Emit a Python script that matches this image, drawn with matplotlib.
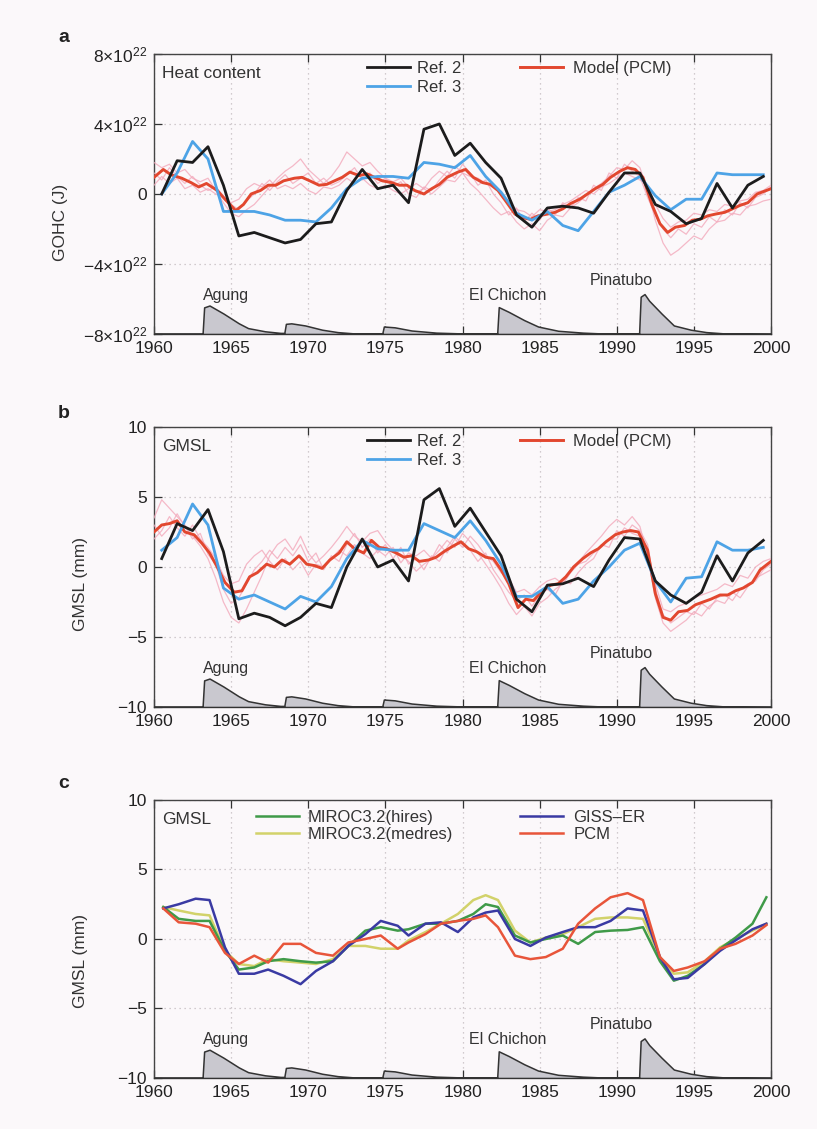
import numpy as np
import matplotlib
matplotlib.use("Agg")
import matplotlib.pyplot as plt
from matplotlib.lines import Line2D
from matplotlib.legend_handler import HandlerTuple
from matplotlib.ticker import FixedLocator, FuncFormatter

plt.rcParams['font.family'] = ['Liberation Sans', 'DejaVu Sans']
plt.rcParams['mathtext.fontset'] = 'custom'
plt.rcParams['mathtext.rm'] = 'Liberation Sans'

# ---------------- data ----------------
# observations (annual)
obs_years = np.arange(1960.5, 2000.0, 1.0)
a_ref2 = [0.0, 1.9, 1.8, 2.7, 0.5, -2.4, -2.2, -2.5, -2.8, -2.6, -1.7, -1.6, 0.2, 1.4, 0.3, 0.5,
          -0.5, 3.7, 4.0, 2.2, 2.9, 1.8, 0.9, -1.2, -1.9, -0.8, -0.7, -0.8, -1.1, 0.1, 1.2, 1.2,
          -0.6, -1.0, -1.7, -1.4, 0.6, -0.8, 0.5, 1.0]
a_ref3 = [0.0, 1.2, 3.0, 2.0, -1.0, -1.0, -1.0, -1.2, -1.5, -1.5, -1.6, -0.8, 0.3, 0.9, 1.0, 1.0,
          0.9, 1.8, 1.7, 1.5, 2.2, 1.0, 0.1, -1.1, -1.5, -1.0, -1.8, -2.1, -1.0, 0.1, 0.5, 1.0,
          -0.1, -0.9, -0.3, -0.3, 1.2, 1.1, 1.1, 1.1]
b_ref2 = [0.6, 3.1, 2.6, 4.1, 1.1, -3.7, -3.3, -3.6, -4.2, -3.6, -2.6, -2.9, 0.0, 2.0, 0.0, 0.5,
          -1.0, 4.8, 5.6, 2.9, 4.2, 2.5, 0.8, -2.3, -3.2, -1.3, -1.2, -0.8, -1.4, 0.5, 2.1, 2.0,
          -1.0, -2.0, -2.6, -1.8, 0.8, -1.0, 1.0, 1.9]
b_ref3 = [1.2, 2.1, 4.5, 3.0, -1.5, -2.3, -2.0, -2.5, -3.0, -2.1, -2.5, -1.4, 0.6, 1.9, 1.3, 1.2,
          1.2, 3.1, 2.6, 2.1, 3.3, 1.9, 0.2, -2.1, -2.1, -1.4, -2.6, -2.3, -1.0, 0.0, 1.2, 1.7,
          -1.0, -2.5, -0.8, -0.7, 1.8, 1.2, 1.2, 1.4]

# PCM ensemble mean (read at ~half-year spacing)
a_pcm_years = [1960.0, 1960.6, 1961.1, 1961.8, 1962.4, 1962.9, 1963.4, 1964.1, 1964.6, 1965.3,
               1965.8, 1966.3, 1966.9, 1967.4, 1967.9, 1968.4, 1969.1, 1969.6, 1970.1, 1970.7,
               1971.2, 1971.7, 1972.2, 1972.7, 1973.3, 1973.8, 1974.3, 1974.8, 1975.4, 1975.9,
               1976.4, 1976.9, 1977.5, 1978.0, 1978.5, 1979.0, 1979.7, 1980.2, 1980.7, 1981.3,
               1981.8, 1982.3, 1982.8, 1983.4, 1983.9, 1984.4, 1984.9, 1985.5, 1986.0, 1986.5,
               1987.0, 1987.6, 1988.1, 1988.6, 1989.1, 1989.6, 1990.2, 1990.7, 1991.2, 1991.7,
               1992.3, 1992.8, 1993.3, 1993.8, 1994.4, 1994.9, 1995.4, 1995.9, 1996.4, 1997.0,
               1997.5, 1998.0, 1998.5, 1999.1, 2000.0]
a_pcm = [0.95, 1.4, 1.1, 0.9, 0.65, 0.4, 0.6, 0.2, -0.3, -0.95,
         -0.6, 0.0, 0.2, 0.5, 0.5, 0.75, 0.9, 0.95, 0.75, 0.5,
         0.55, 0.75, 0.95, 1.25, 1.05, 1.15, 0.95, 0.75, 0.65, 0.5,
         0.5, 0.2, 0.0, 0.3, 0.55, 0.95, 1.25, 1.4, 0.95, 0.65,
         0.55, 0.2, -0.4, -1.15, -1.35, -1.45, -1.25, -1.15, -1.05, -0.85,
         -0.55, -0.3, 0.0, 0.3, 0.55, 0.95, 1.3, 1.5, 1.4, 0.95,
         -0.65, -1.7, -2.2, -1.9, -1.8, -1.5, -1.45, -1.25, -1.15, -1.05,
         -0.85, -0.65, -0.5, 0.0, 0.3]
b_pcm_years = [1960.0, 1960.5, 1961.0, 1961.5, 1962.0, 1962.6, 1963.1, 1963.6, 1964.1, 1964.6,
               1965.2, 1965.7, 1966.2, 1966.7, 1967.3, 1967.8, 1968.3, 1968.8, 1969.4, 1969.9,
               1970.4, 1970.9, 1971.4, 1972.0, 1972.5, 1973.0, 1973.6, 1974.1, 1974.6, 1975.1,
               1975.7, 1976.2, 1976.7, 1977.2, 1977.8, 1978.3, 1978.8, 1979.4, 1979.9, 1980.4,
               1980.9, 1981.5, 1982.0, 1982.5, 1983.0, 1983.6, 1984.1, 1984.6, 1985.1, 1985.7,
               1986.2, 1986.7, 1987.2, 1987.8, 1988.3, 1988.8, 1989.3, 1989.9, 1990.4, 1990.9,
               1991.4, 1992.0, 1992.5, 1993.0, 1993.5, 1994.0, 1994.6, 1995.1, 1995.6, 1996.1,
               1996.7, 1997.2, 1997.7, 1998.2, 1998.8, 1999.3, 2000.0]
b_pcm = [2.5, 3.0, 3.1, 3.3, 2.5, 2.3, 1.7, 1.0, 0.0, -1.1,
         -1.8, -1.7, -0.7, -0.4, 0.2, 0.0, 0.5, 0.2, 0.8, 0.2,
         0.1, -0.1, 0.5, 1.0, 1.8, 1.3, 1.0, 1.9, 1.4, 1.3,
         1.0, 0.7, 0.8, 0.4, 0.5, 0.7, 1.1, 1.5, 1.8, 1.3,
         1.1, 0.7, 0.6, -0.2, -1.2, -2.9, -2.3, -2.4, -1.8, -1.3,
         -1.2, -0.7, 0.0, 0.6, 1.0, 1.3, 1.8, 2.3, 2.5, 2.6,
         2.5, 1.2, -1.9, -3.6, -3.8, -3.2, -3.1, -2.7, -2.5, -2.3,
         -2.0, -2.0, -1.7, -1.5, -1.1, -0.2, 0.4]

# PCM individual members (half-year)
member_years = np.arange(1960.0, 2000.01, 0.5)
a_mem1 = [1.8, 1.5, 1.7, 1.2, 1.4, 0.9, 0.7, 0.9, 0.2, -0.5, -1.1, -1.3, -0.9, -0.6, -0.1, 0.4,
          0.9, 1.3, 1.6, 2.0, 1.4, 1.0, 0.6, 1.0, 1.6, 2.4, 2.0, 1.6, 1.8, 1.3, 0.9, 0.7,
          0.9, 0.4, 0.1, 0.3, 0.9, 1.3, 1.0, 1.6, 1.2, 0.6, 0.2, -0.3, -0.8, -1.2, -1.0, -1.6,
          -2.0, -1.7, -2.1, -1.5, -1.2, -1.3, -0.8, -0.5, -0.1, 0.3, 0.6, 1.0, 1.5, 1.4, 1.9,
          1.5, 0.2, -1.5, -2.8, -3.5, -3.2, -2.8, -2.4, -2.6, -2.0, -1.6, -1.5, -1.1, -1.2,
          -0.7, -0.6, -0.4, -0.3]
a_mem2 = [0.5, 1.0, 0.6, 0.9, 0.3, 0.5, 0.1, 0.3, 0.0, -0.2, -0.5, -0.3, 0.3, 0.6, 0.4, 0.8,
          0.3, 0.5, 0.3, 0.6, 0.2, 0.0, 0.4, 0.3, 0.5, 0.9, 0.6, 0.9, 0.5, 0.3, 0.5, 0.2,
          0.0, 0.3, 0.6, 0.3, 0.0, 0.4, 0.8, 0.7, 1.2, 1.0, 0.9, 0.6, 0.4, 0.0, -0.4, -0.9,
          -1.0, -1.3, -0.9, -1.0, -0.9, -0.6, -0.4, -0.1, 0.2, 0.0, 0.4, 0.6, 0.9, 1.2, 1.0,
          0.8, 0.5, -0.6, -1.4, -1.9, -1.6, -1.5, -1.1, -1.2, -0.9, -1.0, -0.6, -0.7, -0.4,
          -0.3, 0.1, 0.2, 0.5]
a_mem3 = [1.2, 0.8, 1.5, 1.0, 0.6, 1.0, 0.5, 0.2, 0.4, -0.1,
          -0.6, -0.9, -0.4, 0.0, 0.6, 0.2, 0.7, 1.1, 0.6, 0.9,
          1.2, 0.6, 0.9, 0.5, 0.7, 1.1, 1.5, 0.8, 1.2, 0.6,
          0.9, 0.4, 0.7, 0.0, -0.2, 0.4, 0.2, 0.8, 1.3, 0.9,
          1.7, 1.2, 0.5, 0.8, 0.0, -0.5, -1.2, -0.8, -1.6, -1.1,
          -1.5, -0.8, -1.2, -0.5, -0.8, -0.2, -0.4, 0.5, 0.2, 1.2,
          0.9, 1.7, 1.3, 1.0, -0.2, -1.2, -2.0, -2.5, -2.0, -2.3,
          -1.7, -1.9, -1.3, -1.6, -0.9, -1.2, -0.5, -0.8, -0.2, 0.0,
          0.4]
b_mem1 = [3.5, 4.8, 4.2, 3.6, 3.0, 2.2, 1.5, 0.6, -0.8, -2.5, -3.6, -4.0, -3.0, -1.8, -0.6, 0.8,
          1.6, 2.0, 1.2, 2.2, 1.0, 0.3, 0.8, 1.4, 2.1, 2.9, 2.2, 1.8, 2.4, 2.6, 1.8, 1.2,
          0.9, 0.4, -0.3, 0.2, 0.6, 1.2, 1.9, 1.4, 2.4, 1.8, 1.0, 0.2, -0.6, -1.5, -2.6, -3.4,
          -2.8, -3.5, -2.6, -2.2, -1.6, -1.2, -0.4, 0.3, 1.0, 1.6, 2.2, 2.9, 3.4, 3.0, 3.6,
          2.9, 0.8, -2.2, -4.0, -4.6, -4.2, -3.8, -3.2, -3.5, -2.8, -2.4, -2.6, -1.8, -2.2,
          -1.4, -0.8, -0.5, -0.2]
b_mem2 = [2.0, 2.6, 3.6, 2.8, 2.2, 3.0, 2.0, 1.4, 0.6, -0.6, -1.2, -1.0, 0.2, 0.8, 1.2, 0.4,
          -0.2, 0.6, -0.2, 0.4, -0.6, 0.2, 0.0, 0.6, 1.2, 0.8, 1.6, 1.0, 0.6, 1.2, 0.8, 1.4,
          0.3, 1.0, 0.8, 1.2, 0.6, 1.6, 1.0, 2.0, 1.4, 2.2, 1.6, 0.8, 0.4, -0.4, -0.8, -1.8,
          -1.6, -2.0, -1.4, -1.0, -0.8, -1.2, -0.4, 0.2, 0.4, 1.0, 1.4, 2.0, 2.0, 2.8, 2.4,
          2.2, 1.0, -1.2, -3.0, -3.2, -2.8, -2.6, -2.2, -2.0, -1.8, -1.6, -1.2, -1.4, -0.6,
          -0.8, 0.0, 0.4, 0.6]
b_mem3 = [3.0, 2.2, 2.8, 3.8, 2.9, 2.0, 2.4, 0.9, 0.2, -1.6,
          -2.6, -2.2, -1.2, -0.2, 0.4, 1.2, 0.6, 1.4, 0.8, 1.6,
          0.4, 1.0, -0.2, 0.8, 0.4, 1.6, 2.4, 1.4, 2.0, 1.0,
          1.6, 0.6, 1.4, 0.2, 0.6, -0.2, 0.8, 0.4, 1.4, 2.2,
          1.6, 1.2, 0.4, 1.0, -0.2, -1.0, -1.8, -2.4, -2.0, -2.8,
          -2.0, -1.6, -2.0, -1.0, -1.2, -0.4, 0.2, 0.6, 1.6, 1.4,
          2.6, 2.2, 3.0, 2.6, 1.6, -1.6, -3.4, -4.0, -3.6, -3.2,
          -3.4, -2.6, -3.0, -2.2, -2.0, -2.4, -1.6, -1.2, -1.0, -0.2,
          0.2]

# panel c: model GMSL (annual)
c_years = [1960.6, 1961.6, 1962.7, 1963.6, 1964.6, 1965.5, 1966.5, 1967.4, 1968.4, 1969.5,
           1970.5, 1971.6, 1972.6, 1973.7, 1974.7, 1975.8, 1976.5, 1977.6, 1978.6, 1979.7,
           1980.7, 1981.5, 1982.3, 1983.4, 1984.4, 1985.4, 1986.5, 1987.5, 1988.6, 1989.6,
           1990.7, 1991.7, 1992.8, 1993.7, 1994.6, 1995.7, 1996.7, 1997.7, 1998.8, 1999.7]
c_miroc_hires = [2.3, 1.45, 1.3, 1.3, -0.85, -2.2, -2.05, -1.6, -1.45, -1.6, -1.7, -1.6, -0.5,
                 0.6, 0.85, 0.6, 0.7, 1.1, 1.1, 1.3, 1.8, 2.5, 2.3, 0.25, -0.25, 0.0, 0.25,
                 -0.35, 0.5, 0.6, 0.65, 0.85, -1.6, -3.0, -2.65, -1.8, -0.7, 0.1, 1.1, 3.0]
c_miroc_medres = [2.3, 2.05, 1.8, 1.7, -0.85, -1.8, -1.95, -1.45, -1.6, -1.7, -1.8, -1.45, -0.5,
                  -0.5, -0.7, -0.7, -0.1, 0.5, 1.1, 1.8, 2.8, 3.15, 2.8, 0.6, -0.25, 0.1, 0.35,
                  0.85, 1.45, 1.55, 1.55, 1.45, -1.3, -2.5, -2.4, -1.6, -0.6, 0.0, 0.6, 1.1]
c_giss = [2.2, 2.5, 2.9, 2.8, -0.6, -2.5, -2.5, -2.2, -2.65, -3.25, -2.3, -1.6, -0.5, 0.35, 1.3,
          0.95, 0.25, 1.1, 1.2, 0.5, 1.55, 1.9, 2.05, 0.0, -0.5, 0.1, 0.5, 0.85, 0.85, 1.3,
          2.2, 2.05, -1.3, -2.9, -2.8, -1.8, -0.85, -0.1, 0.7, 1.1]
c_pcm = [2.2, 1.2, 1.1, 0.85, -1.0, -1.8, -1.2, -1.7, -0.35, -0.35, -1.0, -1.2, -0.25, 0.0, 0.25,
         -0.7, -0.25, 0.35, 1.1, 1.3, 1.45, 1.7, 0.85, -1.2, -1.45, -1.3, -0.7, 1.1, 2.2, 3.0,
         3.3, 2.8, -1.3, -2.3, -2.05, -1.6, -0.7, -0.35, 0.25, 1.0]

# volcanic aerosol (optical depth)
volc_years = [1960.0, 1963.15, 1963.25, 1963.6, 1964.5, 1965.5, 1966.1, 1967.2, 1968.2, 1968.45,
              1968.55, 1968.9, 1969.8, 1970.9, 1971.9, 1973.0, 1974.8, 1974.9, 1975.6, 1976.7,
              1978.3, 1980.0, 1982.25, 1982.35, 1983.0, 1984.0, 1984.9, 1986.2, 1987.8, 1989.0,
              1991.45, 1991.55, 1991.8, 1992.1, 1992.9, 1993.7, 1994.8, 1995.8, 1997.0, 2000.0]
volc_aod = [0.001, 0.001, 0.100, 0.107, 0.077, 0.040, 0.022, 0.010, 0.004, 0.004,
            0.038, 0.040, 0.032, 0.016, 0.007, 0.002, 0.002, 0.028, 0.025, 0.013,
            0.005, 0.002, 0.002, 0.101, 0.083, 0.052, 0.028, 0.012, 0.005, 0.002,
            0.002, 0.140, 0.150, 0.125, 0.077, 0.032, 0.016, 0.007, 0.002, 0.001]
volc_names = ['Agung', 'El Chichon', 'Pinatubo']
volc_label_x = [1964.7, 1982.9, 1990.3]

# ---------------- style ----------------
BG = '#fbf8fa'
C_BLACK = '#1c1c1c'
C_BLUE = '#4da3e6'
C_RED = '#e2472f'
C_PINK = '#f3a9bb'
C_GREEN = '#3f9a48'
C_YELLOW = '#d2d26a'
C_INDIGO = '#3a3aa3'
C_PCMC = '#e8553a'
FS = 12.5

fig = plt.figure(figsize=(8.17, 11.29), dpi=100, facecolor=BG)
L, W, H = 0.1885, 0.7552, 0.248
axa = fig.add_axes([L, 0.7042, W, H])
axb = fig.add_axes([L, 0.3738, W, H])
axc = fig.add_axes([L, 0.0452, W, 0.2462])


def style(ax, ylim, yticks, fmt, ylabel):
    ax.set_facecolor(BG)
    ax.set_xlim(1960, 2000)
    ax.set_ylim(*ylim)
    ax.xaxis.set_major_locator(FixedLocator(np.arange(1960, 2001, 5)))
    ax.yaxis.set_major_locator(FixedLocator(yticks))
    ax.yaxis.set_major_formatter(FuncFormatter(fmt))
    ax.tick_params(direction='in', top=True, right=True, length=6, width=0.9,
                   labelsize=FS, pad=5, colors='#333333')
    ax.tick_params(axis='both', labelcolor='#222222')
    for s in ax.spines.values():
        s.set_color('#444444')
        s.set_linewidth(1.0)
    ax.grid(True, color='#c4bcc0', linestyle=(0, (1, 3)), linewidth=0.9)
    ax.set_ylabel(ylabel, fontsize=FS, color='#333333')
    # volcanic aerosol on a twin axis
    tv = ax.twinx()
    tv.set_ylim(0, 1.053)
    tv.set_xlim(1960, 2000)
    tv.fill_between(volc_years, 0, volc_aod, facecolor='#c9c8cf', edgecolor='#333333',
                    linewidth=1.1, zorder=1)
    tv.set_yticks([])
    tv.tick_params(right=False, labelright=False)
    tv.patch.set_visible(False)
    for s in tv.spines.values():
        s.set_visible(False)
    ylab = [0.137, 0.137, 0.192]
    for name, x, y in zip(volc_names, volc_label_x, ylab):
        ax.text(x, y, name, transform=ax.get_xaxis_transform(), ha='center', va='center',
                fontsize=11.5, color='#333333')
    return tv


def fmt_ohc(v, pos):
    if v == 0:
        return '0'
    return r'$\mathregular{%d{\times}10^{22}}$' % v


def fmt_mm(v, pos):
    return ('%d' % v).replace('-', '\u2212')


style(axa, (-8, 8), [-8, -4, 0, 4, 8], fmt_ohc, 'GOHC (J)')
axa.yaxis.set_label_coords(-0.139, 0.40)
style(axb, (-10, 10), [-10, -5, 0, 5, 10], fmt_mm, 'GMSL (mm)')
axb.yaxis.set_label_coords(-0.107, 0.44)
style(axc, (-10, 10), [-10, -5, 0, 5, 10], fmt_mm, 'GMSL (mm)')
axc.yaxis.set_label_coords(-0.107, 0.42)

# panels a and b
for ax, mems, pyrs, pcm, r2, r3, title in [
        (axa, [a_mem1, a_mem2, a_mem3], a_pcm_years, a_pcm, a_ref2, a_ref3, 'Heat content'),
        (axb, [b_mem1, b_mem2, b_mem3], b_pcm_years, b_pcm, b_ref2, b_ref3, 'GMSL')]:
    for m in mems:
        ax.plot(member_years, m, color=C_PINK, lw=0.9, alpha=0.8, zorder=3)
    h_red, = ax.plot(pyrs, pcm, color=C_RED, lw=2.1, zorder=4)
    h_r3, = ax.plot(obs_years, r3, color=C_BLUE, lw=2.0, zorder=5)
    h_r2, = ax.plot(obs_years, r2, color=C_BLACK, lw=2.0, zorder=6)
    ax.text(0.013, 0.932, title, transform=ax.transAxes, fontsize=FS, va='center',
            ha='left', color='#333333')
    h_pink = Line2D([], [], color=C_PINK, lw=1.2)
    leg1 = ax.legend([h_r2, h_r3], ['Ref. 2', 'Ref. 3'], loc='upper left',
                     bbox_to_anchor=(0.345, 0.975), frameon=False, fontsize=FS - 0.5,
                     handlelength=2.6, handletextpad=0.4, labelspacing=0.25,
                     borderpad=0, borderaxespad=0)
    for t in leg1.get_texts():
        t.set_color('#333333')
    ax.add_artist(leg1)
    leg2 = ax.legend([(h_pink, h_red)], ['Model (PCM)'], loc='upper left',
                     bbox_to_anchor=(0.593, 0.975), frameon=False, fontsize=FS - 0.5,
                     handlelength=2.6, handletextpad=0.6, borderpad=0, borderaxespad=0,
                     handler_map={tuple: HandlerTuple(ndivide=1, pad=0)})
    for t in leg2.get_texts():
        t.set_color('#333333')

# panel c
h_g, = axc.plot(c_years, c_miroc_hires, color=C_GREEN, lw=1.8, zorder=4)
h_y, = axc.plot(c_years, c_miroc_medres, color=C_YELLOW, lw=1.8, zorder=3)
h_i, = axc.plot(c_years, c_giss, color=C_INDIGO, lw=1.8, zorder=5)
h_p, = axc.plot(c_years, c_pcm, color=C_PCMC, lw=1.8, zorder=6)
axc.text(0.013, 0.93, 'GMSL', transform=axc.transAxes, fontsize=FS, va='center',
         ha='left', color='#333333')
legc1 = axc.legend([h_g, h_y], ['MIROC3.2(hires)', 'MIROC3.2(medres)'], loc='upper left',
                   bbox_to_anchor=(0.165, 0.965), frameon=False, fontsize=FS - 0.5,
                   handlelength=2.6, handletextpad=0.5, labelspacing=0.15,
                   borderpad=0, borderaxespad=0)
for t in legc1.get_texts():
    t.set_color('#333333')
axc.add_artist(legc1)
legc2 = axc.legend([h_i, h_p], ['GISS\u2013ER', 'PCM'], loc='upper left',
                   bbox_to_anchor=(0.593, 0.965), frameon=False, fontsize=FS - 0.5,
                   handlelength=2.6, handletextpad=0.6, labelspacing=0.15,
                   borderpad=0, borderaxespad=0)
for t in legc2.get_texts():
    t.set_color('#333333')

# panel letters
for lab, y in [('a', 38), ('b', 413), ('c', 783)]:
    fig.text(58 / 817, 1 - y / 1129, lab, fontsize=14, fontweight='bold', ha='left',
             va='center', color='#222222')

fig.savefig('out.png', dpi=100, facecolor=BG)
